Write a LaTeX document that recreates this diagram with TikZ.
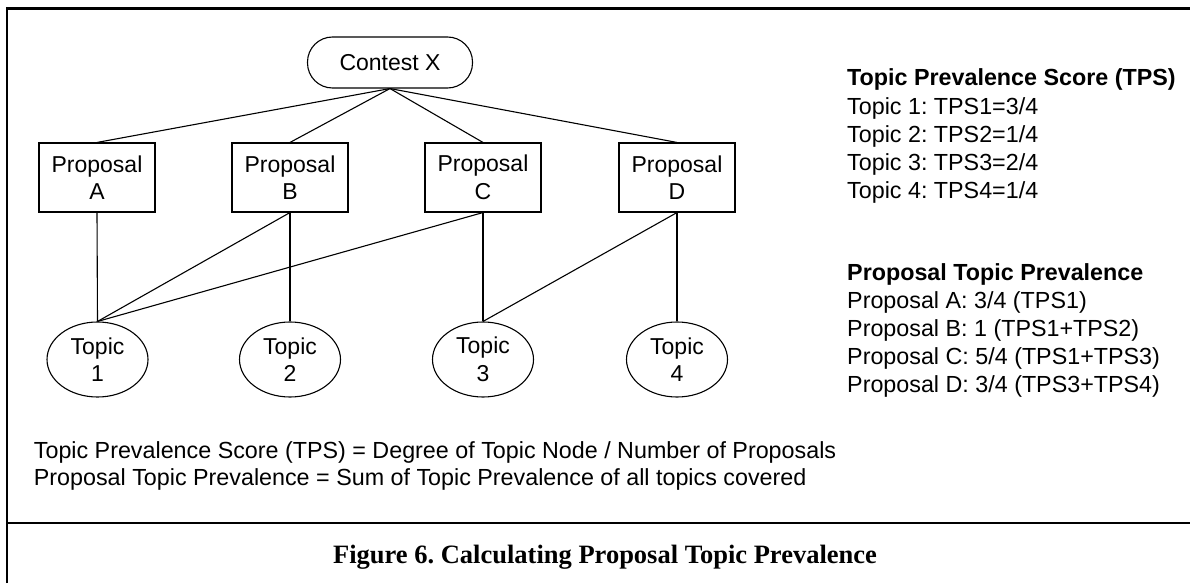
\documentclass[tikz,border=0pt]{standalone}
\usepackage{fontspec}
\setmainfont{Liberation Sans}
\newfontfamily\capfont{Liberation Serif}
\usetikzlibrary{shapes.geometric}
\frenchspacing
\begin{document}
\begin{tikzpicture}[x=1pt,y=-1pt,
  nodefont/.style={font=\fontsize{23}{27.5}\selectfont},
  txt/.style={anchor=base west, inner sep=0pt, font=\fontsize{23.3}{27.5}\selectfont},
  ttl/.style={anchor=base west, inner sep=0pt, font=\fontsize{23.3}{27.5}\selectfont\bfseries},
  edge/.style={line width=1.1pt},
  frameline/.style={line width=2.2pt},
  contestbox/.style={draw, line width=1.1pt, rounded corners=25pt, minimum width=165pt, minimum height=51pt, inner sep=0pt, nodefont},
  propbox/.style={draw, line width=1.1pt, minimum width=116pt, minimum height=69pt, inner sep=0pt, align=center, nodefont},
  topicnode/.style={ellipse, draw, line width=1.1pt, minimum width=101pt, minimum height=75pt, inner sep=0pt, align=center, nodefont}
]
\useasboundingbox (0,0) rectangle (1190,583);
% frame
\coordinate (fbl) at (6.7,583);
\coordinate (ftl) at (6.7,8.5);
\coordinate (ftr) at (1190,8.5);
\coordinate (fdl) at (6.7,523);
\coordinate (fdr) at (1190,523);
\draw[frameline] (fbl) -- (ftl) -- (ftr);
\draw[frameline] (fdl) -- (fdr);

% nodes
\node[contestbox] (cx) at (390,62.5) {Contest X};
\node[propbox] (pa) at (97,177.5) {Proposal\\A};
\node[propbox] (pb) at (290,177.5) {Proposal\\B};
\node[propbox] (pc) at (483,177.5) {Proposal\\C};
\node[propbox] (pd) at (677,177.5) {Proposal\\D};
\node[topicnode] (t1) at (97.5,359.5) {Topic\\1};
\node[topicnode] (t2) at (290,359.5) {Topic\\2};
\node[topicnode] (t3) at (483,359.5) {Topic\\3};
\node[topicnode] (t4) at (677,359.5) {Topic\\4};

% connectors
\draw[edge] (cx.south) -- (pa.north);
\draw[edge] (cx.south) -- (pb.north);
\draw[edge] (cx.south) -- (pc.north);
\draw[edge] (cx.south) -- (pd.north);
\draw[edge] (pa.south) -- (t1.north);
\draw[edge] (pb.south) -- (t1.north);
\draw[edge] (pb.south) -- (t2.north);
\draw[edge] (pc.south) -- (t1.north);
\draw[edge] (pc.south) -- (t3.north);
\draw[edge] (pd.south) -- (t3.north);
\draw[edge] (pd.south) -- (t4.north);

% right text
\node[ttl] (h1) at (847,86) {Topic Prevalence Score (TPS)};
\node[txt] (s1) at (847,114) {Topic 1: TPS1=3/4};
\node[txt] (s2) at (847,142) {Topic 2: TPS2=1/4};
\node[txt] (s3) at (847,170) {Topic 3: TPS3=2/4};
\node[txt] (s4) at (847,198) {Topic 4: TPS4=1/4};
\node[ttl] (h2) at (847,280) {Proposal Topic Prevalence};
\node[txt] (q1) at (847,308) {Proposal A: 3/4 (TPS1)};
\node[txt] (q2) at (847,336) {Proposal B: 1 (TPS1+TPS2)};
\node[txt] (q3) at (847,364) {Proposal C: 5/4 (TPS1+TPS3)};
\node[txt] (q4) at (847,392) {Proposal D: 3/4 (TPS3+TPS4)};

% bottom text
\node[txt] (b1) at (33.7,458) {Topic Prevalence Score (TPS) = Degree of Topic Node / Number of Proposals};
\node[txt] (b2) at (33.7,485) {Proposal Topic Prevalence = Sum of Topic Prevalence of all topics covered};

% caption
\node[anchor=base, inner sep=0pt, font=\capfont\bfseries\fontsize{26.5}{30}\selectfont] (cap) at (605,563) {Figure 6. Calculating Proposal Topic Prevalence};
\end{tikzpicture}
\end{document}
